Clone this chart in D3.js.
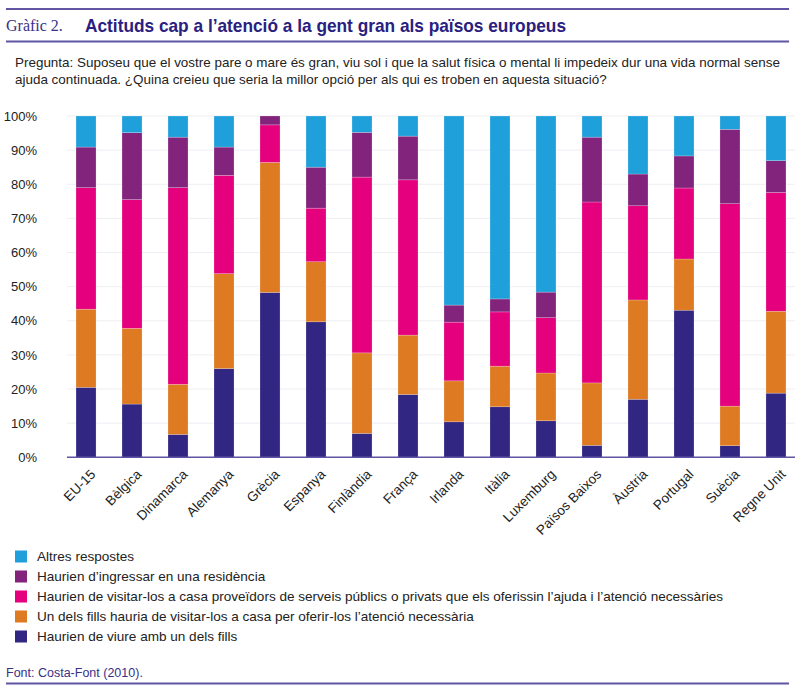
<!DOCTYPE html>
<meta charset="utf-8">
<script src="https://d3js.org/d3.v7.min.js"></script>
<style>
  body { margin: 0; background: #fff; }
  text { font-family: "Liberation Sans", Arial, sans-serif; }
</style>
<svg id="chart" width="800" height="692"></svg>
<script>
// categories (x axis)
const countries = ["EU-15", "Bèlgica", "Dinamarca", "Alemanya", "Grècia", "Espanya", "Finlàndia", "França",
  "Irlanda", "Itàlia", "Luxemburg", "Països Baixos", "Àustria", "Portugal", "Suècia", "Regne Unit"];

// series, bottom to top (%)
const viure      = [20.5, 15.6,  6.7, 26.0, 48.3, 39.7,  7.0, 18.4, 10.4, 14.8, 10.7,  3.5, 17.0, 43.1,  3.4, 18.8];
const fills      = [22.9, 22.2, 14.7, 27.8, 38.1, 17.6, 23.6, 17.4, 12.0, 11.9, 14.0, 18.3, 29.1, 15.0, 11.6, 24.0];
const proveidors = [35.6, 37.7, 57.6, 28.8, 11.0, 15.7, 51.5, 45.5, 17.2, 15.9, 16.2, 53.0, 27.6, 20.8, 59.3, 34.8];
const residencia = [11.9, 19.6, 14.8,  8.3,  2.6, 12.0, 13.1, 12.8,  5.0,  3.8,  7.5, 19.0,  9.3,  9.4, 21.8,  9.3];
const altres     = [ 9.1,  4.9,  6.2,  9.1,  0.0, 15.0,  4.8,  5.9, 55.4, 53.6, 51.6,  6.2, 17.0, 11.7,  3.9, 13.1];

const seriesKeys = ["viure", "fills", "proveidors", "residencia", "altres"];
const seriesLabels = {
  altres: "Altres respostes",
  residencia: "Haurien d’ingressar en una residència",
  proveidors: "Haurien de visitar-los a casa proveïdors de serveis públics o privats que els oferissin l’ajuda i l’atenció necessàries",
  fills: "Un dels fills hauria de visitar-los a casa per oferir-los l’atenció necessària",
  viure: "Haurien de viure amb un dels fills"
};
const yTicks = [0, 10, 20, 30, 40, 50, 60, 70, 80, 90, 100];

const colors = {
  viure: "#312682",
  fills: "#de7a22",
  proveidors: "#e5007d",
  residencia: "#83247c",
  altres: "#20a0db"
};

const svg = d3.select("#chart");
const ruleColor = "#5f55a3";

// header
svg.append("line").attr("x1", 6).attr("x2", 789).attr("y1", 9).attr("y2", 9)
  .attr("stroke", ruleColor).attr("stroke-width", 2);
svg.append("line").attr("x1", 6).attr("x2", 789).attr("y1", 41.5).attr("y2", 41.5)
  .attr("stroke", ruleColor).attr("stroke-width", 2);
svg.append("text").attr("x", 6).attr("y", 31)
  .style("font-family", "'Liberation Serif', 'DejaVu Serif', serif")
  .style("font-size", "16px").attr("fill", "#3a3088")
  .text("Gràfic 2.");
svg.append("text").attr("x", 85).attr("y", 31.5)
  .attr("textLength", 481).attr("lengthAdjust", "spacingAndGlyphs")
  .style("font-size", "18.5px").style("font-weight", "bold").attr("fill", "#2a2080")
  .text("Actituds cap a l’atenció a la gent gran als països europeus");

const question = [
  "Pregunta: Suposeu que el vostre pare o mare és gran, viu sol i que la salut física o mental li impedeix dur una vida normal sense",
  "ajuda continuada. ¿Quina creieu que seria la millor opció per als qui es troben en aquesta situació?"
];
svg.append("g").selectAll("text").data(question).enter().append("text")
  .attr("x", 15).attr("y", (d, i) => 67 + i * 16.5)
  .style("font-size", "13.45px").attr("fill", "#222")
  .text(d => d);

// scales
const x = d3.scaleBand().domain(countries).range([67, 795])
  .paddingInner(0.565).paddingOuter(0.196);
const y = d3.scaleLinear().domain([0, 100]).range([457.3, 116]);

// gridlines + y labels
svg.append("g").selectAll("line").data(yTicks).enter().append("line")
  .attr("x1", 67).attr("x2", 795)
  .attr("y1", d => y(d)).attr("y2", d => y(d))
  .attr("stroke", "#eeeef4").attr("stroke-width", 1);

const yAxis = svg.append("g").attr("transform", "translate(67,0)")
  .call(d3.axisLeft(y).tickValues(yTicks).tickFormat(d => d + "%").tickSize(0).tickPadding(30));
yAxis.select(".domain").remove();
yAxis.selectAll("text").style("font-size", "13px").attr("fill", "#222")
  .style("font-family", "'Liberation Sans', Arial, sans-serif");

// stacked bars
const rows = countries.map((c, i) => ({
  country: c, viure: viure[i], fills: fills[i], proveidors: proveidors[i],
  residencia: residencia[i], altres: altres[i]
}));
const stacked = d3.stack().keys(seriesKeys)(rows);

svg.append("g").selectAll("g").data(stacked).enter().append("g")
  .attr("fill", d => colors[d.key])
  .selectAll("rect").data(d => d).enter().append("rect")
  .attr("x", d => x(d.data.country))
  .attr("width", x.bandwidth())
  .attr("y", d => y(d[1]))
  .attr("height", d => y(d[0]) - y(d[1]))
  .attr("stroke", "#ffffff").attr("stroke-opacity", 0.35).attr("stroke-width", 0.6);

// baseline
svg.append("line").attr("x1", 67).attr("x2", 795).attr("y1", y(0)).attr("y2", y(0))
  .attr("stroke", ruleColor).attr("stroke-width", 1.5);

// x labels
svg.append("g").selectAll("text").data(countries).enter().append("text")
  .attr("transform", d => `translate(${x(d) + x.bandwidth() / 2 + 7},${y(0) + 14.5}) rotate(-45)`)
  .attr("text-anchor", "end").attr("dy", "0.35em")
  .style("font-size", "13.5px").attr("fill", "#222")
  .text(d => d);

// legend
const legendKeys = ["altres", "residencia", "proveidors", "fills", "viure"];
const legend = svg.append("g").selectAll("g").data(legendKeys).enter().append("g")
  .attr("transform", (d, i) => `translate(15,${556.5 + i * 20})`);
legend.append("rect").attr("x", 0).attr("y", -6).attr("width", 12).attr("height", 12)
  .attr("fill", d => colors[d]);
legend.append("text").attr("x", 22).attr("dy", "0.35em")
  .style("font-size", "13.55px").attr("fill", "#222")
  .text(d => seriesLabels[d]);

// footer
svg.append("text").attr("x", 6).attr("y", 677)
  .style("font-size", "12.5px").attr("fill", "#3a3088")
  .text("Font: Costa-Font (2010).");
svg.append("line").attr("x1", 6).attr("x2", 789).attr("y1", 683.5).attr("y2", 683.5)
  .attr("stroke", ruleColor).attr("stroke-width", 2);
</script>
